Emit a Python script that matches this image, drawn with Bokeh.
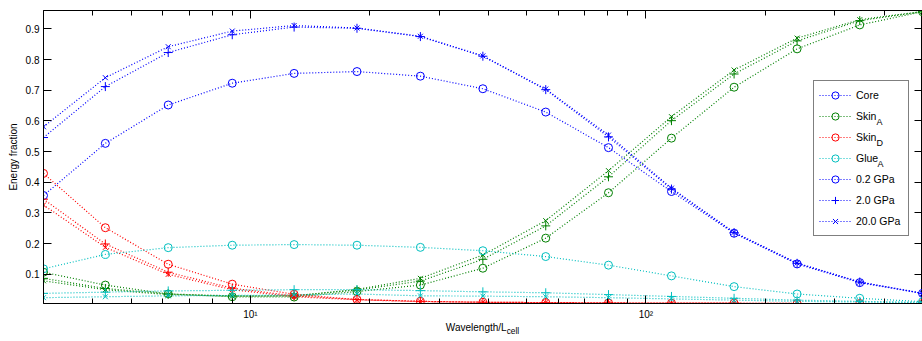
from bokeh.plotting import figure
from bokeh.layouts import column
from bokeh.models import (Range1d, FixedTicker, LogAxis, LinearAxis, Legend,
                          LegendItem, Label, Div)
from bokeh.embed import file_html
from bokeh.resources import INLINE

# ---------------- data ----------------
wavelength = [3, 4.3, 6.2, 9.0, 12.9, 18.6, 26.9, 38.7, 55.8, 80.4, 116, 167, 241, 347, 500]

core_02 = [0.357, 0.527, 0.652, 0.723, 0.755, 0.761, 0.746, 0.705, 0.629, 0.513, 0.370, 0.234, 0.134, 0.073, 0.038]
core_2 = [0.546, 0.712, 0.823, 0.881, 0.906, 0.902, 0.875, 0.811, 0.702, 0.548, 0.378, 0.236, 0.136, 0.075, 0.038]
core_20 = [0.581, 0.741, 0.842, 0.893, 0.911, 0.903, 0.876, 0.812, 0.704, 0.554, 0.381, 0.237, 0.137, 0.075, 0.038]

skinA_02 = [0.107, 0.065, 0.036, 0.027, 0.026, 0.044, 0.065, 0.120, 0.218, 0.366, 0.544, 0.710, 0.835, 0.913, 0.956]
skinA_2 = [0.087, 0.054, 0.036, 0.030, 0.030, 0.049, 0.078, 0.149, 0.258, 0.418, 0.601, 0.753, 0.861, 0.927, 0.956]
skinA_20 = [0.079, 0.050, 0.034, 0.029, 0.030, 0.051, 0.087, 0.163, 0.275, 0.438, 0.614, 0.766, 0.870, 0.930, 0.957]

skinD_02 = [0.429, 0.252, 0.133, 0.068, 0.035, 0.018, 0.012, 0.009, 0.008, 0.007, 0.006, 0.006, 0.005, 0.005, 0.005]
skinD_2 = [0.345, 0.199, 0.107, 0.055, 0.030, 0.018, 0.012, 0.009, 0.008, 0.007, 0.006, 0.006, 0.005, 0.005, 0.005]
skinD_20 = [0.326, 0.188, 0.100, 0.050, 0.027, 0.017, 0.011, 0.009, 0.008, 0.007, 0.006, 0.006, 0.005, 0.005, 0.005]

glueA_02 = [0.118, 0.165, 0.187, 0.195, 0.197, 0.195, 0.188, 0.177, 0.158, 0.130, 0.095, 0.060, 0.036, 0.022, 0.011]
glueA_2 = [0.038, 0.042, 0.046, 0.048, 0.050, 0.050, 0.047, 0.043, 0.040, 0.034, 0.028, 0.022, 0.016, 0.012, 0.009]
glueA_20 = [0.024, 0.027, 0.030, 0.031, 0.033, 0.036, 0.030, 0.029, 0.027, 0.024, 0.020, 0.016, 0.012, 0.010, 0.007]

y_ticks = [0.1, 0.2, 0.3, 0.4, 0.5, 0.6, 0.7, 0.8, 0.9]
x_major = [10, 100]
x_minor = [4, 5, 6, 7, 8, 9, 20, 30, 40, 50, 60, 70, 80, 90, 200, 300, 400]
x_tick_labels = {10: "10\u00b9", 100: "10\u00b2"}

stiffness_labels = ["0.2 GPa", "2.0 GPa", "20.0 GPa"]
FONT = "Liberation Sans"

# ---------------- figure ----------------
p = figure(width=922, height=322, x_axis_type="log",
           x_range=Range1d(3, 500), y_range=Range1d(0.005, 0.96),
           output_backend="svg", toolbar_location=None,
           min_border_left=43, min_border_right=0,
           min_border_top=10, min_border_bottom=19)
p.grid.visible = False
p.outline_line_color = "black"
p.outline_line_width = 1
p.background_fill_color = "white"
p.border_fill_color = "white"


def style_axis(ax, labels=True):
    ax.axis_line_color = "black"
    ax.major_tick_line_color = "black"
    ax.minor_tick_line_color = "black"
    ax.major_tick_in = 8
    ax.major_tick_out = 0
    ax.minor_tick_in = 5
    ax.minor_tick_out = 0
    if labels:
        ax.major_label_text_font = FONT
        ax.major_label_text_font_size = "10px"
        ax.major_label_text_color = "black"
    else:
        ax.major_label_text_font_size = "1px"
        ax.major_label_text_color = None
        ax.major_label_standoff = 0


xa = p.xaxis[0]
xa.ticker = FixedTicker(ticks=x_major, minor_ticks=x_minor)
xa.major_label_overrides = x_tick_labels
style_axis(xa)
xa.major_label_standoff = 5

ya = p.yaxis[0]
ya.ticker = FixedTicker(ticks=y_ticks)
style_axis(ya)
ya.major_label_standoff = 4
ya.axis_label = "Energy fraction"
ya.axis_label_text_font = FONT
ya.axis_label_text_font_size = "10px"
ya.axis_label_text_font_style = "normal"
ya.axis_label_text_color = "black"
ya.axis_label_standoff = 4

top = LogAxis(ticker=FixedTicker(ticks=x_major, minor_ticks=x_minor))
style_axis(top, labels=False)
p.add_layout(top, "above")

right = LinearAxis(ticker=FixedTicker(ticks=y_ticks))
style_axis(right, labels=False)
p.add_layout(right, "right")

# ---------------- series ----------------
series = [
    ("Core", "#0000ff", [core_02, core_2, core_20]),
    ("Skin", "#008000", [skinA_02, skinA_2, skinA_20]),
    ("Skin", "#ff0000", [skinD_02, skinD_2, skinD_20]),
    ("Glue", "#00bfbf", [glueA_02, glueA_2, glueA_20]),
]
markers = ["circle", "cross", "x"]
sizes = [8, 9, 7]

rends = {}
for k, (name, color, ys) in enumerate(series):
    for j, yv in enumerate(ys):
        rl = p.line(wavelength, yv, line_color=color, line_width=1.2, line_dash="1 2")
        rs = p.scatter(wavelength, yv, marker=markers[j], size=sizes[j],
                       line_color=color, fill_color=None, line_width=1)
        rends[(k, j)] = [rl, rs]

items = [
    LegendItem(label="Core", renderers=rends[(0, 0)]),
    LegendItem(label="Skin", renderers=rends[(1, 0)]),
    LegendItem(label="Skin", renderers=rends[(2, 0)]),
    LegendItem(label="Glue", renderers=rends[(3, 0)]),
    LegendItem(label=stiffness_labels[0], renderers=rends[(0, 0)]),
    LegendItem(label=stiffness_labels[1], renderers=rends[(0, 1)]),
    LegendItem(label=stiffness_labels[2], renderers=rends[(0, 2)]),
]
legend = Legend(items=items, location=(770, 67), orientation="vertical",
                padding=5, spacing=3, label_height=18, glyph_height=18,
                glyph_width=32, label_standoff=5, label_width=47,
                label_text_font=FONT, label_text_font_size="10.5px",
                label_text_color="black",
                border_line_color="black", border_line_width=1,
                background_fill_alpha=0, margin=0)
p.add_layout(legend)

# subscripts in legend (frame screen units, y up from frame bottom)
sub_specs = [("A", 1, 833), ("D", 2, 833), ("A", 3, 834)]
for txt, i, sx in sub_specs:
    cy = 96 + 21 * i  # canvas y of item centre
    p.add_layout(Label(x=sx, y=303 - (cy + 4), x_units="screen", y_units="screen",
                       text=txt, text_font=FONT, text_font_size="9px",
                       text_baseline="middle", text_align="left", text_color="black"))

xlabel = Div(text="Wavelength/L<sub>cell</sub>", width=879, height=19,
             margin=(0, 0, 0, 43),
             styles={"text-align": "center", "font-family": FONT,
                     "font-size": "10px", "line-height": "12px",
                     "color": "black", "width": "879px"})

layout = column(p, xlabel, spacing=0)
open("out.html", "w").write(file_html(layout, INLINE))
